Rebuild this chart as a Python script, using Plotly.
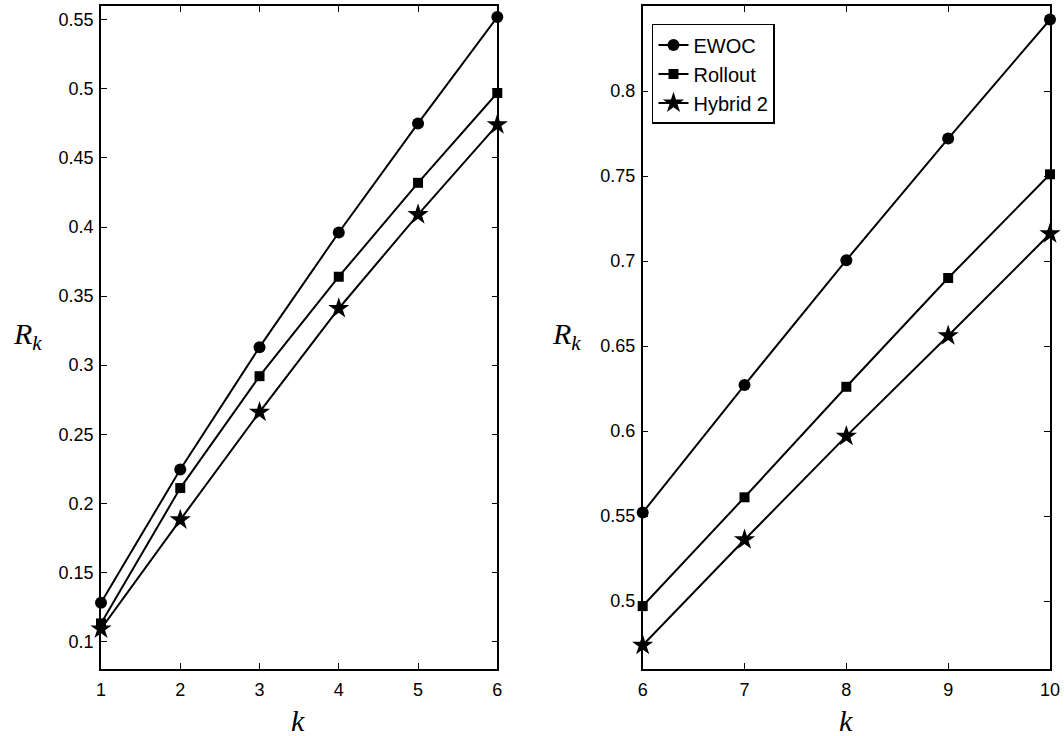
import plotly.graph_objects as go

# ---- data ----
k_left = [1, 2, 3, 4, 5, 6]
ewoc_left = [0.128, 0.2245, 0.313, 0.396, 0.475, 0.552]
rollout_left = [0.113, 0.211, 0.292, 0.364, 0.432, 0.497]
hybrid_left = [0.109, 0.188, 0.266, 0.341, 0.409, 0.474]

k_right = [6, 7, 8, 9, 10]
ewoc_right = [0.552, 0.627, 0.7005, 0.772, 0.842]
rollout_right = [0.497, 0.561, 0.626, 0.690, 0.751]
hybrid_right = [0.474, 0.536, 0.597, 0.656, 0.716]

series_names = ["EWOC", "Rollout", "Hybrid 2"]
symbols = ["circle", "square", "star"]
sizes = [12, 10, 16]

yticks_left = [0.1, 0.15, 0.2, 0.25, 0.3, 0.35, 0.4, 0.45, 0.5, 0.55]
ytext_left = ["0.1", "0.15", "0.2", "0.25", "0.3", "0.35", "0.4", "0.45", "0.5", "0.55"]
yticks_right = [0.5, 0.55, 0.6, 0.65, 0.7, 0.75, 0.8]
ytext_right = ["0.5", "0.55", "0.6", "0.65", "0.7", "0.75", "0.8"]

fig = go.Figure()

left_sets = [ewoc_left, rollout_left, hybrid_left]
right_sets = [ewoc_right, rollout_right, hybrid_right]

for i, name in enumerate(series_names):
    fig.add_trace(go.Scatter(
        x=k_left, y=left_sets[i], mode="lines+markers", name=name,
        line=dict(color="black", width=2),
        marker=dict(symbol=symbols[i], size=sizes[i], color="black"),
        xaxis="x", yaxis="y", showlegend=False, cliponaxis=False))
for i, name in enumerate(series_names):
    fig.add_trace(go.Scatter(
        x=k_right, y=right_sets[i], mode="lines+markers", name=name,
        line=dict(color="black", width=2),
        marker=dict(symbol=symbols[i], size=sizes[i], color="black"),
        xaxis="x2", yaxis="y2", showlegend=True, cliponaxis=False))

axis_common = dict(
    showgrid=False, zeroline=False, showline=True, linecolor="black", linewidth=1.5,
    mirror="ticks", ticks="inside", ticklen=6, tickwidth=1, tickcolor="black",
    tickfont=dict(family="Liberation Sans, Arial, sans-serif", size=18, color="black"),
)

fig.update_layout(
    width=1064, height=736,
    margin=dict(l=101, r=12, t=4, b=67),
    paper_bgcolor="white", plot_bgcolor="white",
    xaxis=dict(domain=[0, 0.4176], range=[1, 6], tickvals=k_left, anchor="y",
               ticklabelstandoff=4, **axis_common),
    yaxis=dict(domain=[0, 1], range=[0.08, 0.56], tickvals=yticks_left, ticktext=ytext_left,
               anchor="x", ticklabelstandoff=2, **axis_common),
    xaxis2=dict(domain=[0.5708, 1], range=[6, 10], tickvals=k_right, anchor="y2",
                ticklabelstandoff=4, **axis_common),
    yaxis2=dict(domain=[0, 1], range=[0.46, 0.85], tickvals=yticks_right, ticktext=ytext_right,
                anchor="x2", ticklabelstandoff=2, **axis_common),
    legend=dict(x=0.5806, y=0.973, xanchor="left", yanchor="top",
                bgcolor="white", bordercolor="black", borderwidth=1.5,
                font=dict(family="Liberation Sans, Arial, sans-serif", size=20, color="black"),
                tracegroupgap=0, itemwidth=30),
    showlegend=True,
)

title_font = dict(family="Liberation Serif, DejaVu Serif, serif", size=30, color="black")
rk = "<i>R</i><sub><i>k</i></sub>"
fig.add_annotation(text=rk, xref="paper", yref="paper",
                   x=(27 - 101) / 950.7, y=1 - (335 - 4) / 665.3, showarrow=False,
                   font=title_font, xanchor="center", yanchor="middle")
fig.add_annotation(text=rk, xref="paper", yref="paper",
                   x=(567 - 101) / 950.7, y=1 - (335 - 4) / 665.3, showarrow=False,
                   font=title_font, xanchor="center", yanchor="middle")
fig.add_annotation(text="<i>k</i>", xref="paper", yref="paper",
                   x=(298 - 101) / 950.7, y=1 - (721 - 4) / 665.3, showarrow=False,
                   font=title_font, xanchor="center", yanchor="middle")
fig.add_annotation(text="<i>k</i>", xref="paper", yref="paper",
                   x=(847 - 101) / 950.7, y=1 - (721 - 4) / 665.3, showarrow=False,
                   font=title_font, xanchor="center", yanchor="middle")

fig.write_html("out.html", config={"displayModeBar": False},
               post_script="document.body.style.margin='0';document.body.style.overflow='hidden';")
